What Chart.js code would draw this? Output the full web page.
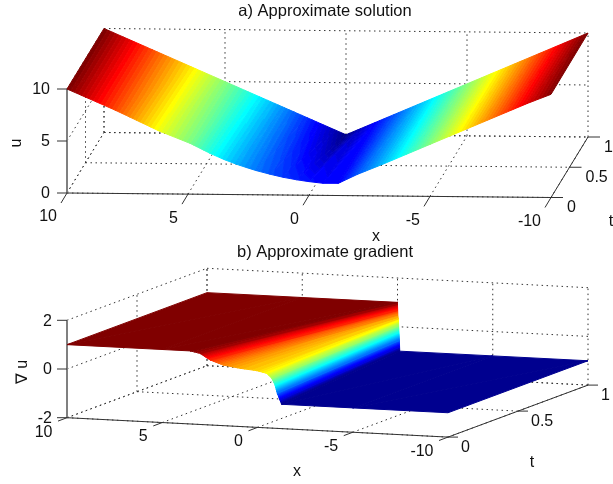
<!DOCTYPE html>
<html>
<head>
<meta charset="utf-8">
<style>
  html, body { margin: 0; background: #fff; }
  canvas { position: absolute; left: 0; }
</style>
<script src="https://cdn.jsdelivr.net/npm/chart.js@4/dist/chart.umd.min.js"></script>
</head>
<body>
<canvas id="solution" width="613" height="242" style="top:0"></canvas>
<canvas id="gradient" width="613" height="242" style="top:242px"></canvas>
<script>
// values
var xTicks = [10, 5, 0, -5, -10];
var tTicks = [0, 0.5, 1];
var uTicks = [0, 5, 10];
var gradTicks = [-2, 0, 2];

// a) surface: same x on both edges
var solX = [10, 8, 6.2, 4.92, 4.09, 3.5, 2.99, 2.55, 2.16, 1.6, 1.06, 0.5, 0, -0.59, -1.21, -2, -3, -4, -5, -6, -7, -8, -9, -10];
var solFront = [10, 8, 6.05, 4.89, 3.94, 3.35, 2.91, 2.58, 2.31, 1.98, 1.7, 1.47, 1.31, 1.16, 1.17, 2.05, 3, 4, 5, 6, 7, 8, 9, 9.92];
var solBack = [10, 8, 6.2, 4.92, 4.09, 3.5, 2.99, 2.55, 2.16, 1.6, 1.06, 0.5, 0, 0.59, 1.21, 2, 3, 4, 5, 6, 7, 8, 9, 10];

// b) surface: the front curve fans into the step at x = 0 on the back edge
var gradFrontX = [10, 5, 3.54, 3.02, 2.49, 1.8, 0.92, 0.04, -0.48, -0.75, -0.92, -1.04, -1.18, -1.27, -5, -10];
var gradBackX = [10, 5, 0, 0, -0.01, -0.02, -0.03, -0.04, -0.05, -0.06, -0.08, -0.1, -0.11, -0.12, -5, -10];
var gradZ = [1, 1, 1, 0.92, 0.67, 0.49, 0.39, 0.33, 0.24, 0.05, -0.22, -0.56, -0.83, -1, -1, -1];

// projection of each box, in canvas pixels
var viewA = { ox: 67, oy: 193, xx: 24.2, xy: 0.225, tx: 37, ty: -60.5, zy: -10.4, zMin: 0, zMax: 10 };
var viewB = { ox: 67, oy: 175.7, xx: 19.05, xy: 0.97, tx: 140, ty: -52, zy: -24.35, zMin: -2, zMax: 2 };

function project(view, x, t, z) {
    return {
        x: view.ox + (10 - x) * view.xx + t * view.tx,
        y: view.oy + (10 - x) * view.xy + t * view.ty + (z - view.zMin) * view.zy
    };
}

// MATLAB jet with 64 steps
function jetColor(i) {
    var v = (i + 1) / 64;
    function ch(c) {
        var a = Math.min(4 * v - c, -4 * v + c + 3);
        return Math.round(255 * Math.max(0, Math.min(1, a)));
    }
    return 'rgb(' + ch(1.5) + ',' + ch(0.5) + ',' + ch(-0.5) + ')';
}

function clipPoly(poly, level, keepAbove) {
    var out = [];
    for (var i = 0; i < poly.length; i++) {
        var a = poly[i], b = poly[(i + 1) % poly.length];
        var inA = keepAbove ? a[2] >= level : a[2] <= level;
        var inB = keepAbove ? b[2] >= level : b[2] <= level;
        if (inA) out.push(a);
        if (inA !== inB) {
            var f = (level - a[2]) / (b[2] - a[2]);
            out.push([a[0] + f * (b[0] - a[0]), a[1] + f * (b[1] - a[1]), level]);
        }
    }
    return out;
}

// one filled dataset per colour band per triangle
function surfaceDatasets(view, frontX, frontZ, backX, backZ, cMin, cMax) {
    var sets = [];
    var w = (cMax - cMin) / 64;
    function addTriangle(tri) {
        var lo = Math.min(tri[0][2], tri[1][2], tri[2][2]);
        var hi = Math.max(tri[0][2], tri[1][2], tri[2][2]);
        var first = Math.max(0, Math.min(63, Math.floor((lo - cMin) / w)));
        var last = Math.min(63, Math.floor((hi - cMin) / w));
        for (var i = first; i <= last; i++) {
            var poly = i > 0 ? clipPoly(tri, cMin + i * w, true) : tri;
            if (i < 63) poly = clipPoly(poly, cMin + (i + 1) * w, false);
            if (poly.length < 3) continue;
            var pts = poly.map(function (p) { return project(view, p[0], p[1], p[2]); });
            pts.push(pts[0]);
            sets.push({
                data: pts, showLine: true, fill: 'shape', pointRadius: 0, clip: false,
                backgroundColor: jetColor(i), borderColor: jetColor(i), borderWidth: 1
            });
        }
    }
    for (var i = 0; i + 1 < frontX.length; i++) {
        var f0 = [frontX[i], 0, frontZ[i]], f1 = [frontX[i + 1], 0, frontZ[i + 1]];
        var b0 = [backX[i], 1, backZ[i]], b1 = [backX[i + 1], 1, backZ[i + 1]];
        addTriangle([f0, f1, b1]);
        addTriangle([f0, b1, b0]);
    }
    return sets;
}

function line3d(view, a, b, dashed) {
    return {
        data: [project(view, a[0], a[1], a[2]), project(view, b[0], b[1], b[2])],
        showLine: true, pointRadius: 0, clip: false, fill: false,
        borderColor: '#333', borderWidth: 1, borderDash: dashed ? [1.5, 3.5] : []
    };
}

function boxDatasets(view, zTicks, xTick, tTick) {
    var sets = [];
    var lo = view.zMin, hi = view.zMax;
    function dot(a, b) { sets.push(line3d(view, a, b, true)); }
    xTicks.forEach(function (x) {
        dot([x, 0, lo], [x, 1, lo]);
        dot([x, 1, lo], [x, 1, hi]);
    });
    tTicks.forEach(function (t) {
        dot([10, t, lo], [-10, t, lo]);
        dot([10, t, lo], [10, t, hi]);
    });
    zTicks.forEach(function (z) {
        dot([10, 0, z], [10, 1, z]);
        dot([10, 1, z], [-10, 1, z]);
    });

    // solid axes
    var zAxis = line3d(view, [10, 0, lo], [10, 0, hi], false);
    zAxis.borderColor = '#808080';
    zAxis.borderWidth = 2;
    sets.unshift(zAxis);
    sets.unshift(line3d(view, [10, 0, lo], [-10, 0, lo], false));
    sets.unshift(line3d(view, [-10, 0, lo], [-10, 1, lo], false));

    // tick marks
    function tick(p, dx, dy) {
        var s = project(view, p[0], p[1], p[2]);
        sets.unshift({
            data: [s, { x: s.x + dx, y: s.y + dy }], showLine: true, pointRadius: 0, clip: false, fill: false,
            borderColor: '#333', borderWidth: 1
        });
    }
    zTicks.forEach(function (z) { tick([10, 0, z], -10, 0); });
    xTicks.forEach(function (x) { tick([x, 0, lo], xTick[0], xTick[1]); });
    tTicks.forEach(function (t) { tick([-10, t, lo], tTick[0], tTick[1]); });
    return sets;
}

function textPlugin(view, cfg) {
    return {
        id: 'boxText',
        afterDraw: function (chart) {
            var ctx = chart.ctx;
            function put(s, x, y, align) {
                ctx.textAlign = align;
                ctx.fillText(s, x, y);
            }
            ctx.save();
            ctx.font = '16px "Liberation Sans", Arial, sans-serif';
            ctx.fillStyle = '#111';
            ctx.textBaseline = 'middle';
            cfg.zTicks.forEach(function (z) {
                var p = project(view, 10, 0, z);
                put(String(z), p.x - cfg.zOff, p.y + 1, 'right');
            });
            xTicks.forEach(function (x) {
                var p = project(view, x, 0, view.zMin);
                put(String(x), p.x + cfg.xOff[0], p.y + cfg.xOff[1], 'right');
            });
            tTicks.forEach(function (t) {
                var p = project(view, -10, t, view.zMin);
                put(String(t), p.x + cfg.tOff[0], p.y + cfg.tOff[1], 'left');
            });
            put('x', cfg.xLabel[0], cfg.xLabel[1], 'center');
            put('t', cfg.tLabel[0], cfg.tLabel[1], 'center');
            ctx.translate(cfg.zLabel[0], cfg.zLabel[1]);
            ctx.rotate(-Math.PI / 2);
            put(cfg.zName, 0, 0, 'center');
            ctx.restore();
        }
    };
}

function makePanel(id, title, titlePad, view, surface, cfg) {
    var topOffset = 20 + titlePad.top + titlePad.bottom;
    var leftPad = 37; // the title is centred over the box, not the window
    new Chart(document.getElementById(id).getContext('2d'), {
        type: 'scatter',
        data: { datasets: surface.concat(boxDatasets(view, cfg.zTicks, cfg.xTick, cfg.tTick)) },
        options: {
            responsive: false,
            animation: false,
            layout: { padding: { left: leftPad } },
            scales: {
                x: { type: 'linear', display: false, min: leftPad, max: 613 },
                y: { type: 'linear', display: false, min: topOffset, max: 242, reverse: true }
            },
            plugins: {
                legend: { display: false },
                tooltip: { enabled: false },
                title: {
                    display: true, text: title, color: '#111', padding: titlePad,
                    font: { family: '"Liberation Sans", Arial, sans-serif', size: 16.5, weight: 'normal', lineHeight: 20 / 16.5 }
                }
            }
        },
        plugins: [textPlugin(view, cfg)]
    });
}

makePanel('solution', 'a) Approximate solution', { top: 1, bottom: 3 }, viewA,
    surfaceDatasets(viewA, solX, solFront, solX, solBack, 0, 10), {
        zTicks: uTicks, zOff: 17, zName: 'u',
        xTick: [-6, 10], tTick: [12, 0],
        xOff: [-10, 24], tOff: [16, 10.5],
        xLabel: [376, 237], tLabel: [611, 222], zLabel: [17, 143]
    });

makePanel('gradient', 'b) Approximate gradient', { top: 0, bottom: 4 }, viewB,
    surfaceDatasets(viewB, gradFrontX, gradZ, gradBackX, gradZ, -1, 1), {
        zTicks: gradTicks, zOff: 15, zName: '\u2207 u',
        xTick: [-9, 3.4], tTick: [10, 0],
        xOff: [-14.5, 14.5], tOff: [13, 10.5],
        xLabel: [297, 230], tLabel: [532, 221], zLabel: [23, 130]
    });
</script>
</body>
</html>
